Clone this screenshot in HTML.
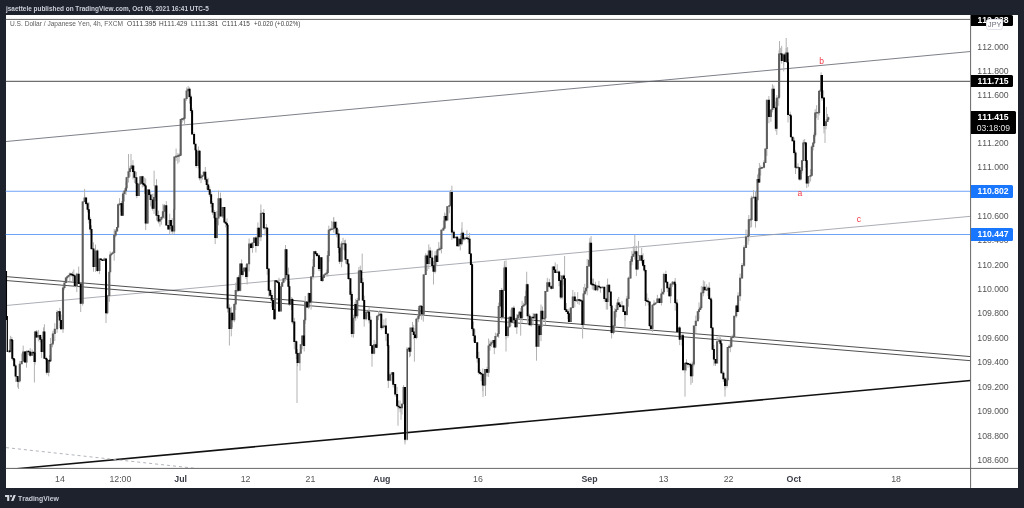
<!DOCTYPE html>
<html lang="en"><head><meta charset="utf-8"><title>USDJPY 4h - TradingView</title>
<style>
html,body{margin:0;padding:0;}
body{width:1024px;height:508px;background:#1e222d;position:relative;overflow:hidden;font-family:"Liberation Sans",sans-serif;}
#paper{position:absolute;left:5.7px;top:15.1px;width:1012.5px;height:472.8px;background:#fff;}
.t{position:absolute;white-space:nowrap;line-height:1;font-kerning:none;}
.pl{font-size:8.7px;color:#555;left:977.3px;height:10px;line-height:10px;}
.tl{font-size:8.8px;color:#555;height:10px;line-height:10px;transform:translateX(-50%);top:473.6px;}
.tl.b{font-weight:bold;color:#3a3d47;}
.tag{position:absolute;font-kerning:none;left:970.7px;color:#fff;font-weight:bold;font-size:8.6px;border-radius:0 1.5px 1.5px 0;box-sizing:border-box;padding-left:6.8px;}
.hdr{left:6.2px;top:4px;font-size:7.4px;font-weight:bold;color:#cdd0d9;height:9px;line-height:9px;transform-origin:0 50%;transform:scaleX(0.8705);}
.leg{top:19.2px;font-size:7.3px;height:9px;line-height:9px;color:#5c5c5c;transform-origin:0 50%;}
.leg.v{color:#444;}
.ann{font-size:8.5px;color:#f23645;height:10px;line-height:10px;transform:translate(-50%,-50%);}
</style></head><body>
<div id="paper"></div>
<svg width="1024" height="508" viewBox="0 0 1024 508" style="position:absolute;left:0;top:0"><defs><clipPath id="cp"><rect x="5.7" y="15.1" width="964.9" height="453.3"/></clipPath></defs><g clip-path="url(#cp)" fill="none"><path d="M0 19.4H971" stroke="#666" stroke-width="1"/><path d="M0 81.3H971" stroke="#4a4a4a" stroke-width="1"/><path d="M0 191.2H971M0 234.5H971" stroke="#6fa3f7" stroke-width="1.1"/><path d="M6 141.5L970.6 51.5" stroke="#5d606b" stroke-width="0.8"/><path d="M6 305.5L970.6 216.3" stroke="#9598a1" stroke-width="0.8"/><path d="M6 276.6L970.6 356.6M6 280.5L970.6 360.7" stroke="#3c3c3c" stroke-width="0.9"/><path d="M6 469.7L970.6 380.5" stroke="#111" stroke-width="1.6"/><path d="M6 447.6L196 468.4" stroke="#a9acb5" stroke-width="0.9" stroke-dasharray="3 3"/><path d="M6.4 271V320M7.3 316V352" stroke="#000" stroke-width="1.3"/><path d="M9.5 349.85V352.17M10.4 335.81V351.57M11.8 336.85V341.76M12.3 340.35V360.76M13.7 358.33V361.13M14.2 359.23V366.01M15.6 364.19V381.98M17.5 376.11V382.04M18.5 377.29V389.01M19.8 361.03V382.51M21.7 353.54V364.03M23.2 345.62V362.06M25 351.45V362.27M26.5 350.34V367.65M28.4 350.63V355.02M30.2 348.13V356.85M32.1 349.49V355.55M33.5 351.9V353.42M34.5 348.7V363.43M35 330.9V364.75M36.4 329.98V338.01M38.3 329.91V341.3M40.2 334.57V342.45M41.6 336.99V357.99M43.5 327.37V352.55M44.4 324.18V358.57M46.3 356.68V364.2M46.8 359.03V374.71M48.7 360.18V376.37M49.6 355.17V364.04M50.6 337.9V361.99M52.5 339.04V347.34M52.9 330.8V345.15M54.8 323.16V341.02M57.1 310.21V332.83M58.5 311.35V316.63M59.75 307.85V328.15M61 314.63V329.83M63 286.26V332.88M64.45 282.79V289.69M65.9 277.58V282.97M67.23 276.52V282.88M68.57 275.03V277.22M69.9 272.42V281.48M71.2 273.65V276.63M72.5 271.68V281.8M73.8 269.48V282.22M74.8 275.1V287.34M76.8 272.74V292.11M78.7 266.6V284.07M80.7 283.45V304.08M82.7 201.12V305.67M84.6 194.61V202.42M86.1 197.7V205.27M87.6 202.27V212.37M88.9 202.16V223.46M90.2 216.92V232.56M91.5 225.24V248.94M93.5 242.29V271.71M95.5 244.62V271.93M97.4 249.41V272.13M99.4 258.57V274.13M100.9 258.65V259.76M102.4 259.22V261M104.3 257.55V260.74M106 258.7V313.27M107.3 295.47V314.29M109.3 271.99V301.88M110.2 251.47V272.26M111.4 253.13V255.99M112.6 251.5V253.98M114.2 229.14V260.7M115.65 229.13V237.27M117.1 227.1V231.28M118.1 203.44V227.93M119.55 198.14V205.15M121 203.34V211.66M121.6 201.06V215.65M123 191.13V215.41M124.5 188.31V201.49M126 181.76V195.02M126.6 176.79V189.21M128.5 171.28V182.52M130 166.08V176.7M131.5 164.61V169.19M132.95 160.21V179.38M134.4 165.6V182.93M136.4 171.92V188.05M136.8 182.85V198.15M138.8 182.76V195.71M140.4 176.49V184.81M142.3 175.8V187.53M143.5 176.02V186.53M144.7 177.53V193.73M145.7 178.54V224.6M147.6 189.27V223.85M149.1 189.37V195.21M150.6 191.33V206.32M152.6 193.85V210.63M154.05 193.49V213.85M155.5 185.81V200.99M156.5 179.15V220.54M158.5 210.63V223.42M159.95 218.99V226.52M161.4 216.3V224.71M162.9 203.9V218.91M164.4 204.05V218.75M166.3 201.12V225.63M168.3 225.1V229.47M169.7 213.72V234.63M170.95 220.15V231.48M172.2 218.08V234.96M174.2 208.29V233.92M174.4 156.69V209.5M176.1 148.56V160.83M177.8 153.13V163.72M179.05 153.37V162.4M180.3 148.98V156.14M180.7 118.73V155.78M182.2 118.03V122.71M183.7 117.45V120.82M184.6 98.59V125.15M186.6 89.67V100.76M188.2 85.97V97.57M189.6 87.32V103.65M190.9 94.49V113.17M192.1 108.1V134.21M194.1 132.37V144.38M195.5 144V155.34M196.2 149.66V167.78M198.4 146.51V168.49M199.6 149.94V180.45M201 173.97V183.17M202.4 175.36V179.57M203.8 171.35V176.29M205.3 166.98V181.86M206.7 176.67V189.58M208.2 177.92V191.45M209.7 186.29V196.84M211.15 192.1V207.48M212.6 201.43V214.78M214.6 210.08V225.18M215.2 213.8V244.11M216.85 210.96V238.51M218.5 195.69V225.35M220.5 192.65V216.42M222.5 207.12V218.04M224.4 207.23V222.72M225.7 222.03V227.44M227 218.39V231.58M227.6 224.72V312.49M229.4 304.31V329.04M231.3 306.71V336.34M232.3 312.58V327.33M234.3 302.67V322.19M235.7 282.55V309.95M237.6 277.3V292.16M238.6 275.17V291.54M240.2 263.48V291.42M241.6 259.45V274.71M242.85 268.49V276.53M244.1 267.79V272.35M246.1 264.38V279.1M247.1 263.84V284.49M249.1 238.49V271.5M251 243.56V248.44M252.5 242.73V252.8M254 237.04V242.95M255.9 236.11V252.47M257.9 222.42V246.4M258.9 227.74V243.77M260.9 210.29V241.11M262.8 212.6V213.75M263.8 209.12V229.72M265.1 227.43V235.63M266.4 223.97V233.87M267.2 227.91V274.85M268.7 268.74V296.53M270.2 288.47V296.49M271.7 292.6V307.28M273 299.55V309.85M274.3 307.13V319.61M275 280.45V319.3M276.3 280.56V282.05M277.6 280.62V283.54M279 277.72V311.96M280.9 284.2V311.46M282.2 281.36V286.51M283.5 277.94V282.55M285.5 245.03V281.34M286.5 249.2V276.79M288.4 267.62V286.64M289.4 280.92V305.97M291.4 297.04V309.98M292.4 297.81V324.25M294.3 317.82V349.35M296.3 340.44V359.15M297.5 349.12V366.24M299.3 351.83V363.89M300.75 344.51V353.6M302.2 335.63V349.21M303.8 335.01V345.91M304.2 319.91V351.46M305.2 295.97V323.9M307.1 301.38V307.82M308.7 292.52V309.17M309.7 293.11V304.07M311.1 275.98V309.66M313 259.19V279.4M314 250.97V274.31M315.45 250.63V254.85M316.9 253.6V257.01M318.9 253.51V271.12M319.9 257.05V271.14M321.5 257.5V281.33M322.7 277.55V282.13M323.9 274.67V277.66M325.35 272.76V275.28M326.8 269.65V276.24M327.8 250.83V276.46M328.8 225.62V261.94M330.25 227.78V231.31M331.7 220.97V230.01M333.7 217.63V232.62M335.3 222.07V233.79M336.7 221.49V237.36M338.6 229.32V253.2M339.6 247.47V264M341.6 241.37V267.28M343.05 237.79V249.88M344.5 240.16V250.72M345.5 239.67V263.64M347.5 258.93V263.92M348.5 263.69V279.88M350.4 278.46V300.19M351.8 291.6V337.16M353.4 314.55V337.7M355 301.99V318M355.7 298.87V320.75M357.3 297.98V318.6M358.9 266.92V300.36M360.3 265.58V271.87M361.3 270.63V283.34M362.8 278.07V300.76M364.2 295.65V326.65M366.2 309.85V320.42M368.1 309.47V316.64M369.1 307.14V323.35M370.7 316.39V345.68M372.1 345.35V354.08M374.1 339.91V354.34M376 341.71V347.5M377 315.95V348.25M378.5 311.09V320.13M380 310.05V315.87M381.3 311.56V329.81M382.6 324.8V328M383.9 319.34V327.31M385.9 318.21V340.81M387.8 333.69V347.57M388.3 340V387.95M390.2 372.6V381.15M392.2 372.12V381.73M393.2 372.12V387.41M395.2 384.16V396.7M397.1 386.87V406.21M398.6 400.4V409.37M400.1 400.55V412.25M402 403.43V414.59M403.6 385.12V404.01M405 387.3V441.73M407 347.09V440.43M409 347.77V350.17M409.5 346.99V357.35M410.5 327.8V356.27M412.5 321.97V331.98M413.75 324.83V339.1M415 328.11V338.56M416.4 317.65V339.19M418.4 308.02V322.09M419.4 304.92V317.74M421 304.92V306.73M421.7 306.07V319.78M423.3 312.66V321.6M423.7 274.04V314.74M425.7 253.31V275.1M427.2 254.34V270.98M428.8 244.39V269.1M430.2 247.31V264.5M432.2 250.53V268.32M433.5 261.18V271.54M435.1 251.13V273.41M436.7 250.9V265.23M437.5 248.96V261.64M438.75 242.07V250.25M440 246.48V250.72M441.4 229.2V253.44M443.4 220.44V230.81M444.6 212.55V229.02M445.9 213.51V221.8M447.3 206.18V220.6M449.3 205.03V213.2M450.5 190.03V206.02M451.9 185.6V240.05M453.8 230.2V238.23M455.8 236.59V238.11M457.2 235.84V246.01M458.7 238.39V246.6M460.3 236.1V250.35M461.7 228.34V245.53M463.1 231.47V241.5M464.35 236.87V240.39M465.6 237.7V239.55M466.9 230.21V238.94M468.2 235.92V242.73M469.6 232.87V254.21M470.9 252.94V265.25M472.1 263.06V330.67M473.5 321.45V341.65M474.9 329.44V342.61M477.2 342.58V362.61M478.8 351.74V374.58M480 369.33V373.4M481.2 371.72V381.18M482.8 368.43V391.14M484.3 376.95V386.2M485.1 369.25V385.28M487 366.91V376.52M488.6 338.52V376.95M490 340.49V350.64M491.4 340.64V346.89M493.3 340.18V347.74M494.3 339.62V354.18M495.4 332.66V348.24M497.7 333.5V336.97M498.7 302.65V337.89M500.1 290.24V306.27M501.7 287.9V320.03M503 288.94V317.54M504.4 264.6V290.4M505.6 266.38V270.28M506 260.38V339.33M508 320.5V337.8M509.5 316.41V327.55M510.9 309.56V326.16M512.3 307.14V321.91M513.9 305.82V323.94M515.4 318.32V327.59M516.8 314.14V333.85M518.1 314.5V318.02M519.4 310.96V316.73M520.7 308.08V318.43M522.1 300.88V322.64M523.4 302.86V306.66M524.7 296.63V306.18M525.7 290.7V304.77M526.7 283.97V301.19M527.6 283.61V323.32M529.6 313.74V325.29M531.2 316.46V326.56M533.1 313.16V325.28M534.5 313.75V319.49M536.5 313.51V354.13M538.5 325.66V346.54M539.4 325.85V336.19M541 304.51V341.1M542.4 306.53V326.96M544.4 310.96V320.08M545.4 291.01V325.1M547.3 277.88V291.42M549.3 278.77V287.89M551.3 285.14V289.6M552.8 266.47V288.5M554 265.99V270.97M555.2 262.38V272.89M557.2 264.21V273.17M559.1 270.45V286.22M560.7 274.98V299.07M562.1 275.66V299.38M564 274.35V285.48M564.9 278.19V310.9M566.4 303.02V311.61M567.9 309.99V319.1M568.9 308.64V321.83M570.8 307.68V321.85M572.8 290.01V308.39M574.8 292.16V307.4M576.25 298.91V301.82M577.7 292.15V303.9M579.2 298.83V304.94M580.7 299.04V301.84M582.3 300.8V329.63M583.6 287.06V328.32M584.8 283.75V293.91M586 287.41V293.05M587.2 258.91V295.35M589.1 258.95V266.96M589.9 241.35V262.64M591.1 236.11V284.48M592.3 278.44V289.46M593.5 278.64V290.31M595.4 281.74V291.07M597.4 284.97V291.28M598.9 280.86V287.08M600.4 286.57V292.8M602.4 286.35V288.06M604.3 286.98V301.55M606.3 297.74V309.52M607.6 278.6V309.63M609.2 284.27V291.99M610.8 291.78V307.98M611.6 301.38V334.48M613.5 325.11V334.26M614.7 308.21V329.63M616.1 304.86V317.53M617.5 298.97V309.78M618.75 296.94V305.63M620 301.87V308.06M622 301.07V307.14M623.4 305.05V312.24M625 311.33V321.01M626.9 295.82V315.67M628.5 276.59V306.69M630.5 259.04V278.67M631.9 251.04V265.12M633.35 246.18V256.63M634.8 249.51V259.64M636.4 245.75V276.11M637.8 260.38V270.18M639.7 255.33V260.8M641.7 247.89V263.43M643 253.38V266.7M644.3 259.17V272.19M645.6 269.59V305.89M646.9 293.31V301.69M648.2 297.9V305.43M649.6 301.29V327.03M650.9 325.46V329.16M652.5 304.32V331.88M654 300.2V305.46M655.5 302.8V304.97M657.4 294.82V303.18M659.4 297.82V303.26M661.4 288.6V305.51M662.8 291.94V294.03M663.9 272.69V294.73M665.9 270.63V282.21M667.3 281.79V292.16M669.3 286.39V296.73M670.6 283.14V303.24M672.6 281.11V286.98M674.6 280.85V285.75M675.2 277.95V310.75M676.6 301.45V304.18M677.1 299.18V332.16M679.1 327.7V338.34M679.7 325.99V345.1M682 334.02V345.89M683 333.62V370.3M685 363.1V372.74M686.5 359.26V370.6M688 363.25V367.76M690 362.71V367.38M690.9 364.75V376.73M692.3 361.62V382.86M693.9 325.55V366.32M695.8 315.59V333.23M697.8 311.17V321.19M699 302.45V319.25M700.2 305.54V309.69M701.3 285.93V309.15M703.3 280.33V296.29M704.7 281.35V290.3M706.7 284.32V291.03M708 286.43V295.92M709.2 282.29V299.18M710.6 298.28V301.34M711.2 297.35V329.13M712.6 327.52V350.05M713.9 344.92V365.78M715.5 359.17V365.94M717.1 336.65V363.12M719.1 334.68V341.67M720.4 337.31V346.23M721.4 340.05V373.95M723.4 371.32V381.93M725 377.18V389.57M726.9 378.02V387.61M727.7 347.39V383.27M729 344.44V348.24M730.3 341.23V352.26M731.3 335.64V346.76M732.8 334.52V337.74M734.2 315.8V338.36M736.2 305.59V317.84M737.2 303.32V311.63M738.1 292.35V311.69M740.1 273.52V300.99M742.1 263.01V278.14M744.1 245.27V266.79M746 229.49V247.82M748 229.74V244.74M748.8 215.04V241.34M750.8 218.68V227.84M751.6 195.77V226.99M753.5 190.17V198.31M755.5 191.79V227.63M756.7 199.94V221.81M757.5 174.46V200.29M758.7 172.73V182.98M759.4 162.96V182.44M760.7 165.43V175.63M762 166.77V168.97M764 160.25V168.52M765.4 148.78V162.97M766.9 99.7V155.91M768.9 96.01V123.26M770.9 109.47V121.87M772.4 88.94V112.36M773.8 85.55V109.07M775.8 101.54V131.27M776.8 95V134.89M778.7 96.86V105.9M779.1 50.22V98.5M780.7 47.87V54.93M781.7 45.84V63.58M783.7 53.43V65.54M784.6 52.86V61.95M786.2 48.01V61.63M787.6 47.11V63.28M788 59.02V122.47M790.2 111.64V119.53M790.9 114.71V137M792.5 136.98V141.16M794.1 137.55V154.47M795.5 150.3V174.06M796.75 166.79V168.56M798 163.28V168.01M799.4 167.5V180.54M800.8 170.26V180.55M802 160.06V173.43M803.3 139.81V161.06M804.7 138.98V145.49M805.9 142.68V167.71M806.7 159.97V183.46M808.3 176.18V186.76M810.6 169.11V181.49M811.8 145.25V176.13M813.2 142.9V150.43M814.2 132.16V144.11M815.2 109.16V136.85M816.65 105.18V117.88M818.1 111.65V119.96M819.1 91.07V115.36M820.5 88.52V91.7M821.1 75.35V95.2M822 75.4V100.74M823.6 90.33V98.74M824 97.56V128.87M826 119.24V129.2M827.5 113.98V121.95M828.3 116.53V120.42M84.6 188.9V197.7M34.4 361V382.5M17.7 381V387.4M80.7 303.5V312M106 313V323M131 153.9V166M128.5 154V171M154.1 170.6V186M145.7 223V230M186.6 87.5V91M218.5 190.6V198.5M229.4 328.8V345.5M260.9 204.4V213.2M297 362.7V403M300 354V370.6M333.7 217.2V222M362.2 253.6V270.7M372 353.9V366.7M405 439.5V444.4M398 406V425.7M401 406V419.8M414.4 337V361.7M433.5 271.5V284.5M462 222.2V233M483 385V397M485.5 372V396M506 335.7V351.5M504.4 260.9V267.8M520.7 318V335.7M526.7 271.7V284.5M536.5 346.5V360.7M564.6 256V276M582.6 324.8V338.5M589.9 237.8V243.1M611.6 332.6V338.5M625 314V326.7M634.8 234.8V251.6M638.5 241V256M685 370V396.6M690.9 375.9V384.8M725 385.8V396.6M772.4 84.2V89.1M786.2 38V52.7M779.5 41V53.7M783.7 62V71.4M806.7 183.2V188.1M821.1 72.4V75.4M825 121V142.9M824 125.6V133.4M826.4 106.9V121" stroke="#b2b2b2" stroke-width="1"/><path d="M10.4 339.2V351.8M18.5 380.45V382.05M19.8 363.7V381.3M21.7 360.9V364.3M23.2 351.4V361.5M26.5 351V362.4M32.1 351.9V355.8M35 331.6V362M38.3 334.9V337.4M43.5 331.6V352M48.7 359.9V372.8M50.6 343.9V361.3M52.5 342.9V344.5M52.9 333.5V343.5M54.8 328.7V334.1M57.1 312V329.3M58.5 311.1V312.7M63 287.4V329.3M64.45 282.5V288M65.9 277.6V283.1M67.23 276.27V278.2M68.57 274.93V276.87M69.9 273.6V275.53M76.8 273.7V286M82.7 201.4V303.8M84.6 197.4V202M95.5 250.6V266.9M99.4 258.4V270.9M104.3 258.4V261M107.3 295.3V313.3M109.3 271.7V295.9M110.2 254.5V272.3M111.4 253.5V255.1M112.6 252.5V254.1M114.2 234.8V253.1M115.65 230.85V235.4M117.1 226.9V231.45M118.1 204.3V227.5M119.55 203.55V205.15M121 203.05V204.65M123 193.5V215.7M124.5 190.55V194.1M126 187.6V191.15M126.6 177.2V188.2M128.5 171.3V177.8M130 168.35V171.9M131.5 165.4V168.95M138.8 183.7V196M140.4 176.2V184.3M147.6 189.5V223.6M154.05 196.9V208.8M155.5 185.6V197.5M159.95 219.05V221.6M161.4 217.1V219.65M162.9 211.2V217.7M164.4 205.3V211.8M169.7 220.1V229.5M174.2 209.2V231.5M174.4 156.6V209.8M176.1 155.85V157.45M177.8 155.35V156.95M179.05 154.85V156.45M180.3 154.35V155.95M180.7 119.1V155.2M182.2 118.35V119.95M183.7 117.85V119.45M184.6 98.5V118.7M186.6 90.6V99.1M188.2 88.7V91.2M198.4 150.7V166M201 176.45V178.3M202.4 175.2V177.05M203.8 171.7V175.8M216.85 217.85V238.1M218.5 198.2V218.45M222.5 207V216.5M231.3 312.8V329.1M234.3 303.9V320.3M235.7 290.1V304.5M237.6 277.3V290.7M240.2 263.6V290.7M242.85 270.95V275M244.1 267.5V271.55M247.1 263.6V277M249.1 243.4V264.2M252.5 242.45V248M254 237.5V243.05M257.9 227.7V246M260.9 212.9V237.2M262.8 212.4V214M265.1 227.2V228.8M266.4 227.2V228.8M275 280.3V319.3M280.9 286.2V311.4M282.2 282.25V286.8M283.5 278.3V282.85M285.5 249.3V278.9M291.4 299V304.5M299.3 353.1V363M300.75 344.25V353.7M302.2 335.4V344.85M304.2 319.7V345.9M305.2 301.9V320.3M308.7 293.1V307.5M311.1 276.4V302.5M313 266.5V277M314 251.3V267.1M319.9 257.2V269.1M322.7 277.35V280.9M323.9 274.4V277.95M325.35 273.4V275M326.8 272.4V274M327.8 255.3V273M328.8 229.7V255.9M330.25 228.95V230.55M331.7 228.45V230.05M333.7 221.8V229.3M341.6 243.4V261.8M343.05 242.9V244.5M344.5 242.9V244.5M353.4 317.7V334M355 303.9V318.3M357.3 300V316.3M358.9 270.4V300.6M360.3 269.9V271.5M366.2 311.8V319.3M368.1 311.3V312.9M374.1 344.3V353.7M377 315.7V347.8M378.5 314.7V316.3M380 313.7V315.3M382.6 326.53V328.13M383.9 325.57V327.18M390.2 374.2V380.7M392.2 372.3V374.8M402 403.7V408.3M403.6 387V404.3M409 347.7V349.3M410.5 327.5V351.8M416.4 318.7V338M418.4 315.7V319.3M419.4 305.9V316.3M421 305.4V307M423.3 313.2V314.8M423.7 274.4V314.3M425.7 255.4V275M428.8 250.5V263.9M435.1 255.4V271.8M437.5 249.5V261.9M438.75 248.75V250.35M440 248.25V249.85M441.4 229.8V249.1M443.4 227.8V230.4M444.6 216V228.4M447.3 206.2V220.6M449.3 205.2V206.8M450.5 192V205.8M455.8 236.7V238.3M458.7 238.7V246.2M461.7 232.8V244.2M464.35 237.95V239.55M465.6 237.45V239.05M484.3 384.25V385.85M485.1 369.1V385.3M488.6 345.4V372.8M490 343.85V346M491.4 342.3V344.45M493.3 339.9V342.9M495.4 336V347.6M497.7 333.4V336.6M498.7 305.9V334M500.1 290.1V306.5M503 290.1V317.3M504.4 267.5V290.7M505.6 267V268.6M508 326.6V336M509.5 316.7V327.2M512.3 307.8V322.2M516.8 317.7V327.2M518.1 314.75V318.3M519.4 311.8V315.35M522.1 305.9V318.3M523.4 304.9V306.5M524.7 303.9V305.5M525.7 296V304.5M526.7 284.2V296.6M531.2 316.7V325.2M534.5 313.7V318.3M538.5 325.6V346.8M541 310.8V335M544.4 317.7V319.3M545.4 291.1V318.3M547.3 282.3V291.7M552.8 266.5V288.8M557.2 271.4V273M562.1 275.4V297.6M570.8 307.4V322.1M572.8 296.6V308M576.25 299.75V301.35M577.7 299.25V300.85M583.6 293.6V325.1M584.8 290.65V294.2M586 287.7V291.25M587.2 266V288.3M589.1 260.1V266.6M589.9 242.8V260.7M597.4 285.7V290.3M602.4 286.7V288.3M607.6 284.7V302.1M613.5 325.4V332.9M614.7 311.3V326M616.1 309.3V311.9M617.5 302.5V309.9M622 305.4V307M626.9 298.5V314.9M628.5 277.8V299.1M630.5 261.1V278.4M631.9 256.2V261.7M633.35 253.75V256.8M634.8 251.3V254.35M637.8 260.1V269.6M639.7 255.2V260.7M652.5 304.7V329M654 303.6V305.3M655.5 302.5V304.2M657.4 298.5V303.1M661.4 293.6V303.1M662.8 291.7V294.2M663.9 273.9V292.3M670.6 283.8V296.2M672.6 281.8V284.4M679.1 327.4V332M682 335.3V339.8M685 362.8V370.3M692.3 363.8V376.2M693.9 325.4V364.4M695.8 320.7V326M697.8 311.3V321.3M699 309.35V311.9M700.2 307.4V309.95M701.3 292.6V308M703.3 286.7V293.2M706.7 289.2V290.8M708 287.7V290.3M717.1 341.2V363.4M719.1 340.2V341.8M726.9 379.6V386.1M727.7 347.1V380.2M729 346.35V347.95M730.3 345.85V347.45M731.3 337.3V346.7M732.8 336.3V337.9M734.2 315.7V336.9M736.2 305.4V316.3M738.1 295.6V311.9M740.1 277.8V296.2M742.1 265.1V278.4M744.1 247.3V265.7M746 236.5V247.9M748 235.5V237.1M748.8 219.3V236.1M750.8 218.8V220.4M751.6 197.7V219.9M753.5 196.7V198.3M756.7 199.7V220.9M757.5 179V200.3M759.4 168.2V182.5M760.7 167.45V169.05M762 166.95V168.55M764 162.3V167.8M765.4 148.5V162.9M766.9 99.7V149.1M770.9 109.5V117M772.4 88.8V110.1M776.8 97.7V128.8M778.7 96.7V98.3M779.1 53.4V97.3M780.7 52.9V54.5M783.7 54.4V60.9M786.2 52.4V61.9M796.75 166.7V168.3M798 166.7V168.3M800.8 170.1V179.6M802 160.3V170.7M803.3 142.6V160.9M804.7 142.1V143.7M808.3 176V183.5M810.6 175.05V176.65M811.8 146.5V175.7M813.2 142.6V147.1M814.2 134.7V143.2M815.2 112.5V135.3M816.65 112V113.6M818.1 112V113.6M819.1 90.8V113.1M820.5 89.8V91.4M821.1 75.1V90.4M823.6 97.2V98.8M826 121.3V125.9M827.5 119.2V121.9M828.3 117.2V119.8" stroke="#5e5e5e" stroke-width="2.1"/><path d="M9.5 350.6V352.2M11.8 339.15V340.75M12.3 340.1V358.7M13.7 358.05V359.65M14.2 359V366.2M15.6 365.6V376.6M17.5 376V381.8M25 351.4V362.4M28.4 350.7V352.3M30.2 351.4V355.8M33.5 351.65V353.25M34.5 352.4V362M36.4 331.6V337.4M40.2 334.9V339.8M41.6 339.2V352M44.4 331.6V358.7M46.3 358.05V359.65M46.8 359V372.8M49.6 359.8V361.4M59.75 311.2V320.55M61 319.95V329.3M71.2 273.43V275.03M72.5 274.1V275.7M73.8 274.77V276.37M74.8 275.6V286M78.7 273.7V284.1M80.7 283.5V303.8M86.1 197.4V203.9M87.6 203.3V209.8M88.9 209.2V219.65M90.2 219.05V229.5M91.5 228.9V249.2M93.5 248.6V266.9M97.4 250.6V270.9M100.9 258.4V260M102.4 259.4V261M106 258.4V313.3M121.6 203.3V215.7M132.95 165.4V171.9M134.4 171.3V177.8M136.4 177.2V183.7M136.8 183.1V196M142.3 176.2V183.7M143.5 183.1V184.95M144.7 184.35V186.2M145.7 185.6V223.6M149.1 189.5V195.05M150.6 194.45V200M152.6 199.4V208.8M156.5 185.6V215.7M158.5 215.1V221.6M166.3 205.3V225.6M168.3 225V229.5M170.95 220.1V226.1M172.2 225.5V231.5M189.6 88.7V97.1M190.9 96.5V110.9M192.1 110.3V134.5M194.1 133.9V144.3M195.5 143.7V150.3M196.2 149.7V166M199.6 150.7V178.3M205.3 171.7V179.8M206.7 179.2V185M208.2 184.4V189.9M209.7 189.3V194.8M211.15 194.2V203.65M212.6 203.05V212.5M214.6 211.9V218.3M215.2 217.7V238.1M220.5 198.2V216.5M224.4 207V222.4M225.7 221.8V223.85M227 223.25V225.3M227.6 224.7V308.4M229.4 307.8V329.1M232.3 312.8V320.3M238.6 277.3V290.7M241.6 263.6V275M246.1 267.5V277M251 243.4V248M255.9 237.5V246M258.9 227.7V237.2M263.8 212.9V228.3M267.2 227.7V269.1M268.7 268.5V290.7M270.2 290.1V295.65M271.7 295.05V300.6M273 300V309.95M274.3 309.35V319.3M276.3 280.3V281.9M277.6 281.3V282.9M279 282.3V311.4M286.5 249.3V275M288.4 274.4V286.8M289.4 286.2V304.5M292.4 299V322.2M294.3 321.6V341.9M296.3 341.3V353.7M297.5 353.1V363M303.8 335.4V345.9M307.1 301.9V307.5M309.7 293.1V302.5M315.45 251.3V253.9M316.9 253.3V255.9M318.9 255.3V269.1M321.5 257.2V280.9M335.3 221.8V228.3M336.7 227.7V234.2M338.6 233.6V248M339.6 247.4V261.8M345.5 243.4V259.8M347.5 259.2V264.2M348.5 263.6V278.9M350.4 278.3V294.7M351.8 294.1V334M355.7 303.9V316.3M361.3 270.4V282.9M362.8 282.3V300.6M364.2 300V319.3M369.1 311.8V320.3M370.7 319.7V345.9M372.1 345.3V353.7M376 344.3V347.8M381.3 313.7V328.1M385.9 325.6V334M387.8 333.4V345.9M388.3 345.3V380.7M393.2 372.3V384.7M395.2 384.1V394.5M397.1 393.9V406.3M398.6 405.7V407.3M400.1 406.7V408.3M405 387V439.8M409.5 347.7V351.8M412.5 327.5V332.1M413.75 331.5V335.05M415 334.45V338M421.7 305.9V314.3M427.2 255.4V263.9M430.2 250.5V258M432.2 257.4V265.9M433.5 265.3V271.8M436.7 255.4V261.9M445.9 216V220.6M451.9 192V232.4M453.8 231.8V238.3M457.2 236.7V246.2M460.3 238.7V244.2M463.1 232.8V239.3M466.9 237.45V239.05M468.2 237.95V239.55M469.6 238.7V254M470.9 253.4V264.9M472.1 264.3V329.1M473.5 328.5V336M474.9 335.4V342.9M477.2 342.3V358.6M478.8 358V372.8M480 372.1V373.7M481.2 372.9V374.5M482.8 373.8V385.4M487 369.1V372.8M494.3 339.9V347.6M501.7 290.1V317.3M506 267.5V336M510.9 316.7V322.2M513.9 307.8V320.3M515.4 319.7V327.2M520.7 311.8V318.3M527.6 284.2V316.3M529.6 315.7V325.2M533.1 316.7V318.3M536.5 313.7V346.8M539.4 325.6V335M542.4 310.8V319.3M549.3 282.3V286.8M551.3 286.2V288.8M554 266.5V270.05M555.2 269.45V273M559.1 271.4V280.9M560.7 280.3V297.6M564 275.4V278.9M564.9 278.3V309.9M566.4 309.3V311.9M567.9 311.3V313.9M568.9 313.3V322.1M574.8 296.6V301.1M579.2 299.25V300.85M580.7 299.75V301.35M582.3 300.5V325.1M591.1 242.8V284.4M592.3 283.53V285.13M593.5 283.97V285.57M595.4 284.7V290.3M598.9 285.7V287.3M600.4 286.7V288.3M604.3 286.7V299.1M606.3 298.5V302.1M609.2 284.7V292.2M610.8 291.6V306M611.6 305.4V332.9M618.75 302.5V305.05M620 304.45V307M623.4 305.4V311.9M625 311.3V314.9M636.4 251.3V269.6M641.7 255.2V260.7M643 260.1V265.65M644.3 265.05V270.6M645.6 270V301.1M646.9 300.25V301.85M648.2 300.75V302.35M649.6 301.5V326M650.9 325.4V329M659.4 298.5V303.1M665.9 273.9V282.4M667.3 281.8V288.3M669.3 287.7V296.2M674.6 281.8V284.4M675.2 283.8V303.1M676.6 302.45V304.05M677.1 303.4V332M679.7 327.4V339.8M683 335.3V370.3M686.5 362.55V364.15M688 363.05V364.65M690 363.75V365.35M690.9 364.7V376.2M704.7 286.7V290.3M709.2 287.7V299.1M710.6 298.5V300.1M711.2 299.5V328M712.6 327.4V349.7M713.9 349.1V359.5M715.5 358.9V363.4M720.4 340.2V343.8M721.4 343.2V373.3M723.4 372.7V379.2M725 378.6V386.1M737.2 305.4V311.9M755.5 196.7V220.9M758.7 179V182.5M768.9 99.7V117M773.8 88.8V108.1M775.8 107.5V128.8M781.7 53.4V60.9M784.6 54.4V61.9M787.6 52.4V62.9M788 62.3V115M790.2 114.4V116M790.9 115.4V137.3M792.5 136.7V141.2M794.1 140.6V153M795.5 152.4V167.8M799.4 167.2V179.6M805.9 142.6V160.9M806.7 160.3V183.5M822 75.1V98.3M824 97.7V125.9" stroke="#000" stroke-width="2"/><path d="M407.2 348.7V439.8" stroke="#2a2a2a" stroke-width="1.1"/></g><path d="M970.6 15.1V487.9" stroke="#666" stroke-width="1" fill="none"/><path d="M5.7 468.4H1018.2" stroke="#666" stroke-width="1" fill="none"/></svg><div class="t hdr" id="hdr">jsaettele published on TradingView.com, Oct 06, 2021 16:41 UTC-5</div>
<div class="t leg " id="leg0" style="left:9.7px;transform:scaleX(0.9039)">U.S. Dollar / Japanese Yen, 4h, FXCM</div>
<div class="t leg v" id="leg1" style="left:126.6px;transform:scaleX(0.9073)">O111.395</div>
<div class="t leg v" id="leg2" style="left:159.4px;transform:scaleX(0.8933)">H111.429</div>
<div class="t leg v" id="leg3" style="left:190.9px;transform:scaleX(0.8958)">L111.381</div>
<div class="t leg v" id="leg4" style="left:222.2px;transform:scaleX(0.8835)">C111.415</div>
<div class="t leg v" id="leg5" style="left:254.4px;transform:scaleX(0.8533)">+0.020 (+0.02%)</div>
<div class="t pl" style="top:42.2px">112.000</div>
<div class="t pl" style="top:66.4px">111.800</div>
<div class="t pl" style="top:90.4px">111.600</div>
<div class="t pl" style="top:138.3px">111.200</div>
<div class="t pl" style="top:162.4px">111.000</div>
<div class="t pl" style="top:211.1px">110.600</div>
<div class="t pl" style="top:235.3px">110.400</div>
<div class="t pl" style="top:259.5px">110.200</div>
<div class="t pl" style="top:283.5px">110.000</div>
<div class="t pl" style="top:308px">109.800</div>
<div class="t pl" style="top:332.6px">109.600</div>
<div class="t pl" style="top:357px">109.400</div>
<div class="t pl" style="top:381.6px">109.200</div>
<div class="t pl" style="top:406.2px">109.000</div>
<div class="t pl" style="top:430.8px">108.800</div>
<div class="t pl" style="top:455.2px">108.600</div>
<div class="t tl" style="left:60px">14</div>
<div class="t tl" style="left:120.4px">12:00</div>
<div class="t tl b" style="left:180.6px">Jul</div>
<div class="t tl" style="left:245.6px">12</div>
<div class="t tl" style="left:310.4px">21</div>
<div class="t tl b" style="left:381.9px">Aug</div>
<div class="t tl" style="left:477.9px">16</div>
<div class="t tl b" style="left:589.5px">Sep</div>
<div class="t tl" style="left:663.6px">13</div>
<div class="t tl" style="left:728.6px">22</div>
<div class="t tl b" style="left:793.9px">Oct</div>
<div class="t tl" style="left:896.1px">18</div>
<div class="tag" style="top:15.1px;height:10.7px;line-height:10.7px;width:41.9px;background:#000">112.238</div>
<div class="tag" style="top:75.2px;height:12.3px;line-height:12.3px;width:41.9px;background:#000">111.715</div>
<div class="tag" style="top:111.2px;height:23px;width:45.4px;background:#000;line-height:10.5px;padding-top:1.2px">111.415<br><span style="font-weight:normal;color:#e4e4e4;margin-left:-0.8px">03:18:09</span></div>
<div class="tag" style="top:185px;height:12.5px;line-height:12.5px;width:41.9px;background:#1976ff">110.802</div>
<div class="tag" style="top:228.2px;height:12.6px;line-height:12.6px;width:41.9px;background:#1976ff">110.447</div>
<div class="t" style="left:985.8px;top:19px;width:17.7px;height:11px;box-sizing:border-box;border:0.6px solid #e0e3eb;border-radius:2.5px;background:#fff;color:#6a6d78;font-size:7.2px;line-height:10px;text-align:center">JPY</div>
<div class="t ann" style="left:799.8px;top:193.3px">a</div>
<div class="t ann" style="left:821.7px;top:61px">b</div>
<div class="t ann" style="left:858.9px;top:219.2px">c</div>
<svg style="position:absolute;left:5.2px;top:495px" width="10.9" height="5.9" viewBox="0 0 36 19.7"><path fill="#d6d8e0" d="M14 19.7H7V7H0V0h14zM28 19.7H20L28.5 0H36z"/><circle cx="20" cy="3.6" r="3.6" fill="#d6d8e0"/></svg>
<div class="t" id="tv" style="left:18.3px;top:493.9px;font-size:7.8px;font-weight:bold;color:#c9ccd6;height:9px;line-height:9px;transform-origin:0 50%;transform:scaleX(0.882)">TradingView</div>
</body></html>
